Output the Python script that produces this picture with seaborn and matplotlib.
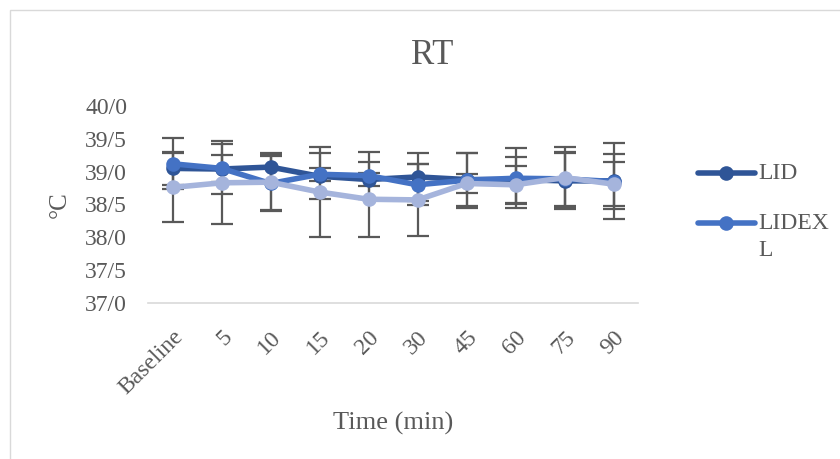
import pandas as pd
import matplotlib
matplotlib.use("Agg")
import matplotlib.pyplot as plt
import seaborn as sns
from matplotlib.patches import Rectangle
from matplotlib.ticker import FuncFormatter

# données
categories = ["Baseline", "5", "10", "15", "20", "30", "45", "60", "75", "90"]
lid_mean = [39.05, 39.04, 39.07, 38.93, 38.88, 38.92, 38.88, 38.88, 38.86, 38.86]
lid_sd = [0.25, 0.38, 0.22, 0.35, 0.10, 0.36, 0.41, 0.35, 0.43, 0.58]
lidexl_mean = [39.12, 39.05, 38.82, 38.96, 38.94, 38.80, 38.87, 38.90, 38.89, 38.85]
lidexl_sd = [0.39, 0.21, 0.42, 0.10, 0.36, 0.31, 0.42, 0.46, 0.41, 0.42]
third_mean = [38.76, 38.83, 38.84, 38.69, 38.58, 38.57, 38.82, 38.80, 38.91, 38.81]
third_sd = [0.52, 0.63, 0.43, 0.68, 0.57, 0.55, 0.14, 0.29, 0.47, 0.34]

series = {
    "LID": (lid_mean, lid_sd, "#2F5597"),
    "LIDEXL": (lidexl_mean, lidexl_sd, "#4472C4"),
    "Third": (third_mean, third_sd, "#A5B4DC"),
}

rows = []
for name, (means, sds, _) in series.items():
    for cat, m, s in zip(categories, means, sds):
        rows.append({"time": cat, "temp": m, "sd": s, "group": name})
df = pd.DataFrame(rows)

sns.set_style("white")
plt.rcParams["font.family"] = ["Liberation Serif", "DejaVu Serif"]
text_color = "#595959"

fig = plt.figure(figsize=(8.4, 4.59), dpi=100)
ax = fig.add_axes([148 / 840, 1 - 303 / 459, 490 / 840, 197 / 459])

palette = {k: v[2] for k, v in series.items()}

# barres d'erreur derrière les courbes
for name, (means, sds, _) in series.items():
    ax.errorbar(range(len(categories)), means, yerr=sds, fmt="none",
                ecolor="#595959", elinewidth=1.6, capsize=8, capthick=1.6, zorder=1)

sns.lineplot(data=df, x="time", y="temp", hue="group", palette=palette,
             marker="o", markersize=10.5, markeredgewidth=0, linewidth=4,
             sort=False, legend=False, ax=ax, zorder=3)

ax.set_ylim(37, 40)
ax.set_xlim(-0.5, len(categories) - 0.5)
ax.set_yticks([37.0, 37.5, 38.0, 38.5, 39.0, 39.5, 40.0])
ax.yaxis.set_major_formatter(FuncFormatter(lambda v, p: f"{v:.1f}".replace(".", "/")))

for s in ["top", "right", "left"]:
    ax.spines[s].set_visible(False)
ax.spines["bottom"].set_color("#D9D9D9")
ax.spines["bottom"].set_linewidth(1.2)

ax.tick_params(axis="y", length=0, pad=15, labelsize=17, labelcolor=text_color)
ax.tick_params(axis="x", length=0, pad=17, labelsize=17, labelcolor=text_color)
for lab in ax.get_xticklabels():
    lab.set_rotation(45)
    lab.set_ha("right")
    lab.set_va("top")
    lab.set_rotation_mode("anchor")

ax.set_xlabel("Time (min)", fontsize=19, color=text_color)
ax.set_ylabel("°C", fontsize=18, color=text_color)
ax.xaxis.set_label_coords(0.5, -0.555)
ax.yaxis.set_label_coords(-0.157, 0.5)

fig.text(432 / 840, 1 - 55 / 459, "RT", ha="center", va="center", fontsize=25, color=text_color)

line_handles = [l for l in ax.lines if l.get_marker() == "o"][:2]
leg = fig.legend(line_handles, ["LID", "LIDEX\nL"], loc="upper left",
                 bbox_to_anchor=(698 / 840, 1 - 163 / 459), frameon=False,
                 fontsize=17, handlelength=2.4, handleheight=1.2, handletextpad=0.15,
                 labelspacing=1.1, borderpad=0, borderaxespad=0)
for t in leg.get_texts():
    t.set_color(text_color)
    t.set_linespacing(1.35)
# aligner la clé sur la première ligne du libellé
for col in leg._legend_handle_box.get_children():
    for item in col.get_children():
        item.align = "top"

fig.patches.append(Rectangle((10 / 840, -0.1), 1.2, 1.1 - 10 / 459, transform=fig.transFigure,
                             fill=False, edgecolor="#D9D9D9", linewidth=1))

fig.savefig("out.png", dpi=100)
